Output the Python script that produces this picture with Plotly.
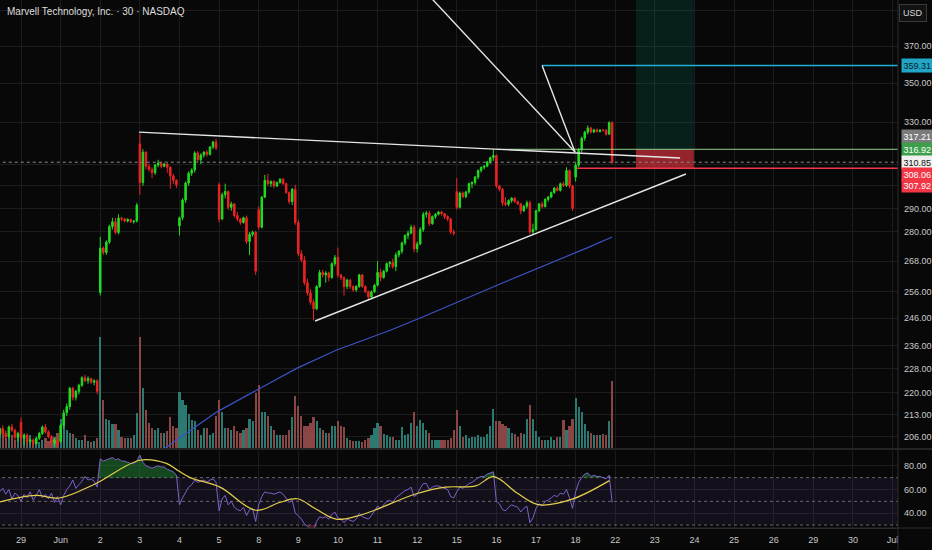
import math
import plotly.graph_objects as go

# 30-minute bars, 13 per session. Bar 0 = first bar of 29 May, bars -7..-1 = end of 28 May
first_bar = -7
bars_per_day = 13
day_labels = ["29", "Jun", "2", "3", "4", "5", "8", "9", "10", "11", "12", "15",
              "16", "17", "18", "22", "23", "24", "25", "26", "29", "30", "Jul"]

open_ = [
    206.5, 208.5, 207, 206, 209, 208, 205.8,
    210.5, 205.5, 206.5, 204.5, 205, 203.8, 205.5, 207, 209, 207.5, 206, 204, 205,
    204.5, 209.5, 213.5, 215.5, 221.5, 218.5, 220.5, 222.5, 225, 224, 224.8, 223.5, 224,
    255.7, 273.3, 271.5, 275.8, 282.3, 284.3, 279.8, 285.9, 285.5, 284.6, 285.3, 284.3, 284.6,
    319.5, 301.5, 315.5, 309, 307.5, 306, 309.5, 310.5, 309, 310, 308.5, 304.5, 302.5,
    282.5, 286, 293.7, 301.3, 305.8, 307.2, 315.2, 312, 314.2, 315.6, 314.5, 318, 320.4,
    300.5, 285.5, 296, 297.5, 290.5, 292, 287, 285.5, 284, 286, 276, 279, 279.8,
    289.5, 282, 295, 302.5, 301, 302, 300, 301.5, 303, 301, 297, 293, 298.5,
    284, 271, 268.5, 259.5, 255.5, 252, 249.5, 258, 263.5, 262.5, 263.3, 261.5, 267,
    269.5, 262.5, 261.5, 258, 260.5, 258, 256.7, 258, 262.5, 258, 256, 254, 256,
    258.5, 263.5, 261.5, 264, 267, 267.5, 265.8, 270.5, 272, 275.4, 278.5, 279.5, 282,
    273, 275, 281, 287.5, 288, 283.5, 286.5, 287.5, 288.5, 287.8, 286.5, 285.5, 280,
    297.5, 290.5, 296.8, 295.2, 297.3, 301, 301.5, 304, 307, 308.5, 309, 311, 313,
    314, 300, 298.5, 292.5, 291.8, 293.5, 294.5, 293, 292, 289, 291, 292.5, 280,
    281, 289, 292, 290.8, 294, 295, 297, 299, 298, 301, 300.2, 307, 300,
    304, 309.5, 316.6, 322.3, 325.2, 327.2, 325.2, 326.3, 325.5, 326.2, 326, 324.2, 329.8,
]
high = [
    209, 209.5, 208, 209.5, 210, 208.5, 207.5,
    212, 207, 207, 205.5, 205.5, 206, 207.5, 209.5, 210, 208, 206.5, 205.5, 205.5,
    210, 214.5, 216.5, 222, 222, 221, 223, 225.5, 226, 225.5, 225, 224.5, 224.5,
    278, 274, 276.5, 283, 286, 286, 287.5, 286.5, 286, 285.8, 285.6, 285, 292.5,
    324.5, 317, 316, 310, 308.5, 310, 312, 311, 310.5, 310.5, 309, 305.5, 303,
    286.5, 294.5, 302, 306.5, 308, 316, 316, 315, 316, 316.5, 318.5, 321, 322,
    301.5, 297, 301, 298, 293, 292.5, 288.5, 286, 286.5, 287, 280, 280.5, 280.5,
    291, 295.5, 305, 305.5, 302.5, 302.5, 302, 303.5, 303.5, 301.5, 297.5, 299, 300.5,
    285, 272.5, 270, 261, 257, 253, 258.5, 264.5, 264.5, 264, 263.8, 267.5, 270.5,
    273.5, 263, 262, 261, 261, 258.5, 258.5, 263, 263, 258.5, 256.5, 256.5, 259,
    268, 265, 264.5, 267.5, 268, 269, 271.5, 272.5, 276, 279, 280.5, 283, 283,
    276, 282, 288.5, 289, 289, 287, 288, 289, 289, 288, 287, 286, 281,
    303.5, 297.5, 297.5, 297.8, 301.5, 302, 304.5, 307.5, 308.8, 309.5, 311.5, 313.5, 317,
    314.5, 300.5, 299, 295, 294, 295, 295, 293.5, 292.5, 291.5, 293.5, 293.5, 283.5,
    289.5, 292.5, 293, 294.5, 295.5, 297.5, 299.5, 299.8, 301.5, 302, 308.5, 307.5, 300.5,
    310.5, 317.5, 323, 325.8, 328.5, 327.8, 326.8, 327, 326.5, 326.7, 326.7, 330.5, 330.5,
]
low = [
    205.5, 206.5, 205, 205.5, 207.5, 205, 204.5,
    204.5, 203.5, 204, 203.5, 203, 203.5, 205, 206.5, 207, 205.5, 203.5, 203, 202.8,
    204, 208.5, 212.5, 214.5, 217.5, 217.5, 219.5, 222, 223.5, 223, 223, 222.5, 219.5,
    254.5, 270.5, 270.5, 275, 281, 279, 279, 284.5, 284, 284, 283.8, 283.5, 284,
    296, 300, 307.5, 306.5, 303.5, 305, 308.5, 308, 308.5, 306, 298.7, 301, 299,
    278.5, 285, 292.5, 300, 304.5, 306, 311, 310, 313, 313.5, 314, 317, 316.5,
    284, 285, 294.5, 289.5, 289, 286, 284.5, 283, 283.5, 275, 270.5, 278, 262.5,
    281, 281.5, 294.5, 300, 299.5, 299, 299.5, 301, 300.5, 296.5, 292, 291.5, 283,
    270, 267.5, 258.5, 254.5, 251, 245.2, 249, 257.5, 261.5, 259.5, 260, 261, 266,
    261.5, 260.5, 254.5, 257, 257, 256, 256, 257.5, 257.5, 255.5, 253, 253.5, 255.5,
    258, 260, 261, 263.5, 265.5, 265, 264, 269.5, 271, 274.5, 277, 279, 271.5,
    271.5, 274.5, 280, 286, 282.5, 283, 285.5, 287, 287, 285.5, 284.5, 279, 278.5,
    289.5, 290, 294.5, 294.5, 296.5, 299, 300.5, 303, 306, 307.5, 308.5, 310, 311.5,
    299, 297.5, 291, 291, 291, 292.5, 292.5, 291.5, 287.5, 288.5, 290, 279, 279,
    280.5, 288.5, 290, 290.5, 293, 294.5, 296.5, 297.5, 297.5, 299.5, 299.5, 299, 289,
    302, 308.5, 315.5, 321, 324, 324.5, 324.8, 325, 325, 325.5, 323.5, 324, 310,
]
close = [
    208.5, 207, 206, 209, 208, 205.8, 207,
    205.5, 206.5, 204.5, 205, 203.8, 205.5, 207, 209, 207.5, 206, 204, 205, 203.5,
    209.5, 213.5, 215.5, 221.5, 218.5, 220.5, 222.5, 225, 224, 224.8, 223.5, 224, 220.5,
    273.3, 271.5, 275.8, 282.3, 284.3, 279.8, 285.9, 285.5, 284.6, 285.3, 284.3, 284.6, 291.5,
    301.5, 315.5, 309, 307.5, 306, 309.5, 310.5, 309, 310, 308.5, 304.5, 302.5, 300.5,
    286, 293.7, 301.3, 305.8, 307.2, 315.2, 312, 314.2, 315.6, 314.5, 318, 320.4, 317.5,
    285.5, 296, 297.5, 290.5, 292, 287, 285.5, 284, 286, 276, 279, 279.8, 264,
    282, 295, 302.5, 301, 302, 300, 301.5, 303, 301, 297, 293, 298.5, 284,
    271, 268.5, 259.5, 255.5, 252, 249.5, 258, 263.5, 262.5, 263.3, 261.5, 267, 269.5,
    262.5, 261.5, 258, 260.5, 258, 256.7, 258, 262.5, 258, 256, 254, 256, 258.5,
    263.5, 261.5, 264, 267, 267.5, 265.8, 270.5, 272, 275.4, 278.5, 279.5, 282, 273,
    275, 281, 287.5, 288, 283.5, 286.5, 287.5, 288.5, 287.8, 286.5, 285.5, 280, 279.5,
    290.5, 296.8, 295.2, 297.3, 301, 301.5, 304, 307, 308.5, 309, 311, 313, 314,
    300, 298.5, 292.5, 291.8, 293.5, 294.5, 293, 292, 289, 291, 292.5, 280, 281,
    289, 292, 290.8, 294, 295, 297, 299, 298, 301, 300.2, 307, 300, 290,
    309.5, 316.6, 322.3, 325.2, 327.2, 325.2, 326.3, 325.5, 326.2, 326, 324.2, 329.8, 310.85,
]
# volume in millions of shares
volume = [
    0.9, 1.1, 0.7, 1.0, 0.9, 0.6, 0.9,
    1.0, 0.7, 0.6, 0.9, 0.6, 0.5, 0.4, 0.6, 0.7, 0.5, 0.6, 0.8, 1.1,
    2.1, 1.9, 1.3, 1.1, 1.0, 0.7, 0.6, 0.6, 0.9, 0.5, 0.4, 0.5, 0.7,
    7.9, 3.4, 2.1, 2.0, 1.7, 1.7, 1.3, 0.8, 0.7, 0.7, 0.7, 0.9, 2.5,
    7.9, 4.3, 2.7, 1.8, 1.4, 1.3, 1.4, 1.1, 1.1, 1.2, 2.2, 1.6, 1.4,
    4.0, 3.4, 3.1, 2.4, 2.0, 1.9, 1.3, 0.9, 1.4, 1.4, 0.9, 1.1, 2.3,
    3.4, 2.6, 1.4, 1.4, 1.3, 1.6, 1.2, 1.1, 1.3, 1.4, 2.1, 1.9, 3.9,
    4.5, 2.6, 2.6, 2.3, 1.6, 1.3, 0.9, 0.9, 0.9, 0.9, 1.3, 2.2, 3.7,
    3.0, 2.3, 1.6, 1.6, 1.8, 2.2, 1.9, 1.4, 1.3, 1.1, 1.1, 1.6, 1.6,
    1.9, 1.6, 1.5, 0.7, 0.6, 0.5, 0.5, 0.5, 0.4, 0.6, 0.7, 0.9, 1.4,
    1.8, 1.6, 1.0, 0.9, 0.8, 0.8, 0.6, 0.6, 1.5, 0.9, 1.0, 1.8, 2.6,
    1.6, 2.0, 1.8, 1.3, 1.1, 0.6, 0.6, 0.6, 0.6, 0.6, 0.6, 0.7, 1.3,
    2.7, 1.6, 0.8, 0.9, 0.7, 0.8, 0.8, 0.9, 0.8, 0.8, 1.0, 1.6, 2.8,
    1.9, 1.9, 1.7, 1.6, 1.4, 1.1, 1.0, 0.8, 1.1, 1.0, 2.1, 3.1, 2.1,
    1.2, 0.8, 0.6, 0.6, 0.6, 0.8, 0.6, 0.8, 0.8, 2.0, 1.3, 1.6, 2.1,
    3.6, 2.9, 2.6, 1.7, 1.2, 1.1, 0.9, 0.9, 0.9, 1.0, 0.9, 1.9, 4.8,
]
rsi = [
    58, 61, 56, 60, 52, 57, 55,
    50, 56, 53, 58, 51, 55, 60, 53, 56, 52, 57, 49, 54,
    47, 55, 60, 63, 68, 61, 64, 67, 71, 68, 69, 67, 62,
    86, 84, 85, 86, 87, 85, 86, 84, 84, 83, 82, 82, 84,
    89, 83, 80, 79, 78, 79, 80, 79, 79, 77, 76, 75, 72,
    47, 53, 58, 62, 64, 68, 66, 67, 68, 66, 68, 69, 66,
    42, 52, 55, 47, 50, 45, 43, 42, 45, 38, 43, 44, 33,
    47, 54, 58, 57, 57, 56, 57, 58, 56, 52, 49, 51, 40,
    38, 35, 31, 29, 27, 25, 33, 37, 36, 37, 35, 39, 41,
    36, 35, 32, 35, 34, 33, 35, 40, 37, 36, 35, 38, 42,
    46, 44, 47, 50, 51, 49, 53, 55, 57, 59, 60, 62, 54,
    56, 61, 65, 65, 60, 62, 63, 63, 62, 61, 60, 54, 53,
    58, 62, 61, 63, 65, 66, 68, 70, 71, 71, 73, 74, 75,
    50, 48, 43, 42, 45, 47, 46, 45, 41, 44, 46, 32, 36,
    44, 48, 46, 50, 51, 53, 55, 54, 57, 56, 60, 53, 44,
    58, 66, 70, 73, 74, 71, 72, 71, 71, 70, 69, 72, 49,
]
# RSI-based moving average (yellow), read at a few bars
rsi_ma_x = [-7, 4.8, 12.6, 24.3, 39, 47.7, 51.6, 55.5, 65.3, 77, 84.8, 90.7,
            96.5, 103.4, 110.2, 116, 129.7, 139.4, 149.2, 155.1, 162.8, 169.7, 180.4, 193.1]
rsi_ma_y = [49.4, 55, 52.8, 64.7, 84.7, 82, 75.8, 70, 62, 42.5, 49, 52.2,
            44, 35, 37.5, 42.5, 56.4, 62, 63, 70.8, 57, 47.2, 51.4, 67.5]
# moving average on price (blue), read at a few bars
ma_x = [40, 47.3, 64.3, 77.5, 90.6, 103.4, 121.4, 131, 157.2, 185.8, 194]
ma_y = [198.3, 202.5, 213.8, 220.9, 228.3, 234.5, 241.7, 246.1, 259.0, 273.4, 277.9]

# drawings
trend_upper_x = [38.7, 216.3]
trend_upper_y = [325.2, 312.8]
trend_lower_x = [96.5, 218.2]
trend_lower_y = [245.0, 305.4]
ray_long_x = [129.1, 181.8]
ray_long_y = [408.5, 315.6]
ray_short_x = [171.0, 181.8]
ray_short_y = [359.31, 315.6]
target_price = 359.31
entry_price = 316.92
stop_price = 308.06
last_price = 310.85
target_start = 171.0
entry_start = 156.2
stop_start = 182.5
position_x = [201.8, 220.8]

price_ticks = [206, 213, 220, 228, 236, 246, 256, 268, 280, 290, 300, 310, 330, 350, 370, 390]
hidden_ticks = [300, 310, 390]
badge_values = [359.31, 317.21, 316.92, 310.85, 308.06, 307.92]
badge_bg = ["#22a6c7", "#7b7b7b", "#3e9f4b", "#f0f0f0", "#f23645", "#f23645"]
badge_fg = ["#08202a", "#ffffff", "#ffffff", "#111111", "#ffffff", "#ffffff"]
badge_shift = [0, 12, 0, 0, -6, -17]

bg = "#080808"
grid = "#1c1c1c"
text_col = "#c9c9c9"
font_family = "Liberation Sans Narrow, Liberation Sans, Arial, sans-serif"
green = "#22dc22"
red = "#ec2424"

bars = list(range(first_bar, first_bar + len(close)))
day_ticks = [d * bars_per_day for d in range(len(day_labels))]
x_range = [-6.9, 287.8]
x_far = 320

main_lo = 1 - 448 / 528
rsi_hi = 77 / 528

fig = go.Figure()

# volume on the base axis so it sits under the candles
vol_colors = ["#2a7a72" if c >= o else "#8a4545" for o, c in zip(open_, close)]
fig.add_trace(go.Bar(x=bars, y=volume, marker=dict(color=vol_colors, line=dict(width=0)),
                     width=0.72, xaxis="x", yaxis="y", hoverinfo="skip"))

# long position boxes
px0, px1 = position_x
fig.add_trace(go.Scatter(x=[px0, px1, px1, px0, px0], y=[entry_price, entry_price, 450, 450, entry_price],
                         fill="toself", fillcolor="rgba(8,153,129,0.17)", line=dict(width=0),
                         mode="lines", xaxis="x", yaxis="y2", hoverinfo="skip"))
fig.add_trace(go.Scatter(x=[px0, px1, px1, px0, px0], y=[stop_price, stop_price, entry_price, entry_price, stop_price],
                         fill="toself", fillcolor="rgba(242,54,69,0.6)", line=dict(width=0),
                         mode="lines", xaxis="x", yaxis="y2", hoverinfo="skip"))

# last price line
fig.add_trace(go.Scatter(x=[x_range[0] - 5, x_far], y=[last_price, last_price], mode="lines",
                         line=dict(color="#8c8c8c", width=1, dash="dot"), xaxis="x", yaxis="y2"))
# target / entry / stop lines
fig.add_trace(go.Scatter(x=[target_start, x_far], y=[target_price, target_price], mode="lines",
                         line=dict(color="#1fb0d2", width=1.6), xaxis="x", yaxis="y2"))
fig.add_trace(go.Scatter(x=[entry_start, x_far], y=[entry_price, entry_price], mode="lines",
                         line=dict(color="#8fcf8a", width=1), xaxis="x", yaxis="y2"))
fig.add_trace(go.Scatter(x=[stop_start, x_far], y=[stop_price, stop_price], mode="lines",
                         line=dict(color="#f23645", width=1.4), xaxis="x", yaxis="y2"))

# moving average
fig.add_trace(go.Scatter(x=ma_x, y=ma_y, mode="lines", line=dict(color="#3d52c4", width=1.2),
                         xaxis="x", yaxis="y2", hoverinfo="skip"))

# trend lines
for lx, ly in [(trend_upper_x, trend_upper_y), (trend_lower_x, trend_lower_y),
               (ray_long_x, ray_long_y), (ray_short_x, ray_short_y)]:
    fig.add_trace(go.Scatter(x=lx, y=ly, mode="lines", line=dict(color="#e6e6e6", width=1.4),
                             xaxis="x", yaxis="y2", hoverinfo="skip"))

fig.add_trace(go.Candlestick(
    x=bars, open=open_, high=high, low=low, close=close,
    increasing=dict(line=dict(color=green, width=1), fillcolor=green),
    decreasing=dict(line=dict(color=red, width=1), fillcolor=red),
    whiskerwidth=0, xaxis="x", yaxis="y2", hoverinfo="skip"))

# RSI pane
fig.add_trace(go.Scatter(x=[-20, x_far], y=[30, 30], mode="lines", line=dict(width=0),
                         xaxis="x2", yaxis="y3", hoverinfo="skip"))
fig.add_trace(go.Scatter(x=[-20, x_far], y=[70, 70], mode="lines", line=dict(width=0),
                         fill="tonexty", fillcolor="rgba(126,87,194,0.10)",
                         xaxis="x2", yaxis="y3", hoverinfo="skip"))
for lvl in [70, 50, 30]:
    fig.add_trace(go.Scatter(x=[-20, x_far], y=[lvl, lvl], mode="lines",
                             line=dict(color="#6a6a72", width=1, dash="3px,3px"),
                             xaxis="x2", yaxis="y3", hoverinfo="skip"))
# overbought / oversold fills
fig.add_trace(go.Scatter(x=bars, y=[70] * len(bars), mode="lines", line=dict(width=0),
                         xaxis="x2", yaxis="y3", hoverinfo="skip"))
fig.add_trace(go.Scatter(x=bars, y=[max(v, 70) for v in rsi], mode="lines", line=dict(width=0),
                         fill="tonexty", fillcolor="rgba(40,150,60,0.45)",
                         xaxis="x2", yaxis="y3", hoverinfo="skip"))
fig.add_trace(go.Scatter(x=bars, y=[30] * len(bars), mode="lines", line=dict(width=0),
                         xaxis="x2", yaxis="y3", hoverinfo="skip"))
fig.add_trace(go.Scatter(x=bars, y=[min(v, 30) for v in rsi], mode="lines", line=dict(width=0),
                         fill="tonexty", fillcolor="rgba(200,50,50,0.35)",
                         xaxis="x2", yaxis="y3", hoverinfo="skip"))
fig.add_trace(go.Scatter(x=bars, y=rsi, mode="lines", line=dict(color="#7e61c9", width=1),
                         xaxis="x2", yaxis="y3", hoverinfo="skip"))
fig.add_trace(go.Scatter(x=rsi_ma_x, y=rsi_ma_y, mode="lines", line=dict(color="#e3cf4a", width=1.2, shape="spline"),
                         xaxis="x2", yaxis="y3", hoverinfo="skip"))

price_text = ["" if t in hidden_ticks else f"{t:.2f}" for t in price_ticks]

fig.update_layout(
    width=932, height=550,
    margin=dict(l=0, r=34, t=0, b=22),
    paper_bgcolor=bg, plot_bgcolor=bg,
    showlegend=False,
    font=dict(family=font_family, size=9, color=text_col),
    bargap=0,
    xaxis=dict(domain=[0, 1], range=x_range, anchor="y", tickvals=day_ticks, showticklabels=False,
               ticks="", showgrid=True, gridcolor=grid, gridwidth=1, zeroline=False,
               rangeslider=dict(visible=False), fixedrange=True),
    xaxis2=dict(matches="x", anchor="y3", tickvals=day_ticks, ticktext=day_labels, ticks="",
                showgrid=True, gridcolor=grid, zeroline=False, showline=True, linecolor="#2c2c2c",
                ticklabelstandoff=3, tickfont=dict(size=9, color=text_col), fixedrange=True),
    yaxis=dict(domain=[main_lo, 1], range=[0, 32], visible=False, fixedrange=True),
    yaxis2=dict(overlaying="y", side="right", type="log",
                range=[math.log10(202.53), math.log10(396.42)],
                tickvals=price_ticks, ticktext=price_text, ticks="", showgrid=True, gridcolor=grid,
                zeroline=False, ticklabelstandoff=5, tickfont=dict(size=9, color=text_col), fixedrange=True),
    yaxis3=dict(domain=[0, rsi_hi], anchor="x2", side="right", range=[27.5, 92.5],
                tickvals=[40, 60, 80], ticktext=["40.00", "60.00", "80.00"], ticks="",
                showgrid=True, gridcolor=grid, zeroline=False, ticklabelstandoff=5,
                tickfont=dict(size=9, color=text_col), fixedrange=True),
)

# pane borders
fig.add_shape(type="line", xref="paper", yref="paper", x0=0, x1=932 / 898, y0=1 - 449 / 528, y1=1 - 449 / 528,
              line=dict(color="#2c2c2c", width=1.5))
fig.add_shape(type="line", xref="paper", yref="paper", x0=1, x1=1, y0=-22 / 528, y1=1,
              line=dict(color="#2c2c2c", width=1))
fig.add_shape(type="line", xref="paper", yref="paper", x0=0, x1=932 / 898, y0=0, y1=0,
              line=dict(color="#2c2c2c", width=1))

fig.add_annotation(text="Marvell Technology, Inc. · 30 · NASDAQ", xref="paper", yref="paper",
                   x=5 / 898, y=1 - 12 / 528, xanchor="left", yanchor="middle", showarrow=False,
                   font=dict(size=10, color="#dcdcdc", family=font_family))
fig.add_annotation(text="USD", xref="paper", yref="paper", x=913 / 898, y=1 - 13 / 528,
                   xanchor="center", yanchor="middle", showarrow=False, bgcolor="#121212",
                   bordercolor="#3a3a3a", borderwidth=1, borderpad=3,
                   font=dict(size=9, color="#d6d6d6", family=font_family))

for val, bgc, fgc, sh in zip(badge_values, badge_bg, badge_fg, badge_shift):
    fig.add_annotation(text=f"{val:.2f}", xref="paper", yref="y2", x=1, y=math.log10(val),
                       xanchor="left", yanchor="middle", xshift=3, yshift=sh, showarrow=False,
                       bgcolor=bgc, borderpad=1.5, font=dict(size=9, color=fgc, family=font_family))

# page margin off so the 932x550 figure fills the window
page_fix = ("document.body.style.margin='0';document.body.style.background='%s';"
            "document.body.style.overflow='hidden';" % bg)
fig.write_html("out.html", post_script=page_fix, config={"displayModeBar": False})
